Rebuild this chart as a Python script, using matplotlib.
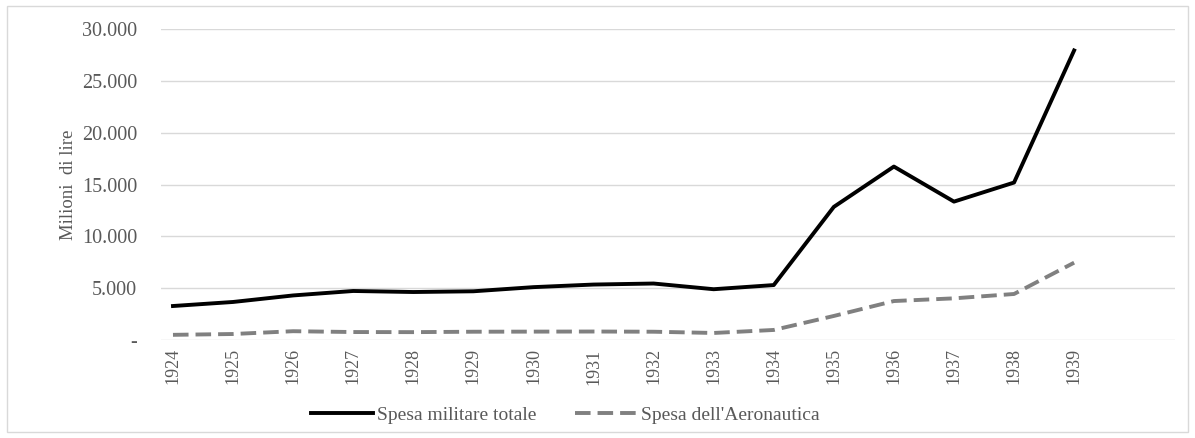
import numpy as np
import matplotlib.pyplot as plt
from matplotlib.ticker import FuncFormatter
from matplotlib.patches import Rectangle


years = ['1924', '1925', '1926', '1927', '1928', '1929', '1930', '1931',
         '1932', '1933', '1934', '1935', '1936', '1937', '1938', '1939']

spesa_totale = [3280, 3670, 4300, 4730, 4630, 4700, 5100, 5350,
                5450, 4900, 5300, 12840, 16730, 13350, 15190, 27930]

spesa_aeronautica = [500, 580, 850, 770, 760, 800, 810, 820,
                     800, 680, 970, 2320, 3760, 4020, 4440, 7460]


plt.rcParams['font.family'] = ['Liberation Serif', 'DejaVu Serif']

fig = plt.figure(figsize=(11.95, 4.38), dpi=100)
ax = fig.add_axes([0.1347, 0.2237, 0.8486, 0.7101])

x = np.arange(len(years))
ax.plot(x, spesa_totale, color='black', lw=2.8, label='Spesa militare totale')
ax.plot(x, spesa_aeronautica, color='#808080', lw=2.8, dashes=(4, 1.8),
        label="Spesa dell'Aeronautica")

ax.set_xlim(-0.2, 16.68)
ax.set_ylim(0, 30000)
ax.set_yticks(np.arange(0, 30001, 5000))
ax.yaxis.set_major_formatter(FuncFormatter(
    lambda v, p: '-' if v == 0 else f'{int(v):,}'.replace(',', '.')))
ax.set_xticks(x)
ax.set_xticklabels(years, rotation=90)

ax.grid(axis='y', color='#d9d9d9', lw=1)
ax.set_axisbelow(True)
for s in ax.spines.values():
    s.set_visible(False)
ax.tick_params(length=0, colors='#595959', labelsize=14.5)
ax.tick_params(axis='y', pad=17)
ax.tick_params(axis='x', pad=6, labelsize=13)

ax.set_ylabel('Milioni  di lire', fontsize=13.5, color='#595959', labelpad=4)

fig.legend(loc='center', bbox_to_anchor=(0.473, 0.052), ncol=2, frameon=False,
           fontsize=14, labelcolor='#595959', handlelength=3.2,
           handletextpad=0.2, columnspacing=2.0)

fig.patches.append(Rectangle((0.006, 0.014), 0.988, 0.972, transform=fig.transFigure,
                             fill=False, edgecolor='#d9d9d9', lw=1))

fig.savefig('out.png', dpi=100)
